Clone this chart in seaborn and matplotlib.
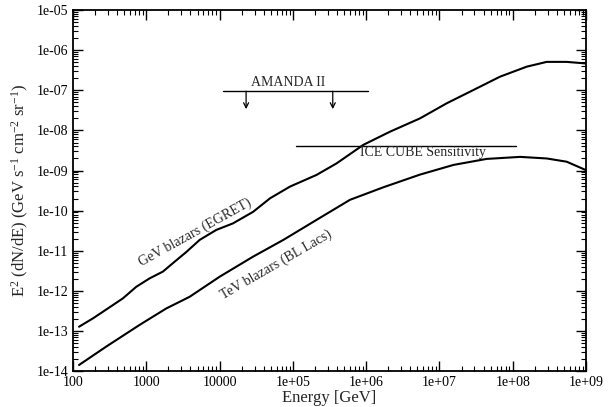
import numpy as np
import pandas as pd
import matplotlib
matplotlib.use("Agg")
import matplotlib.pyplot as plt
from matplotlib.ticker import LogLocator, NullFormatter
import seaborn as sns

# GeV blazars (EGRET) curve
gev_E = [121, 188, 352, 481, 731, 1110, 1690, 2310, 3520, 5350, 9020, 1.52e4, 2.86e4,
         4.88e4, 9.14e4, 2.11e5, 3.95e5, 9.14e5, 2.11e6, 5.42e6, 1.25e7, 2.9e7, 6.68e7,
         1.55e8, 2.9e8, 5.43e8, 1e9]
gev_F = [1.27e-13, 2.06e-13, 4.43e-13, 6.5e-13, 1.26e-12, 2.04e-12, 3.02e-12, 4.9e-12,
         9.3e-12, 1.86e-11, 3.3e-11, 4.8e-11, 9.3e-11, 2.03e-10, 3.98e-10, 7.8e-10,
         1.51e-9, 4.37e-9, 9.3e-9, 2.0e-8, 4.74e-8, 1.02e-7, 2.19e-7, 3.9e-7, 5.13e-7,
         5.13e-7, 4.68e-7]

# TeV blazars (BL Lacs) curve
tev_E = [121, 285, 811, 1875, 3910, 1e4, 2.86e4, 7.41e4, 2.11e5, 6.01e5, 1.7e6, 5.4e6,
         1.55e7, 4.4e7, 1.26e8, 2.9e8, 5.43e8, 1e9]
tev_F = [1.41e-14, 4.07e-14, 1.41e-13, 3.63e-13, 7.1e-13, 2.24e-12, 7.1e-12, 1.86e-11,
         5.9e-11, 1.86e-10, 3.8e-10, 7.9e-10, 1.38e-9, 1.95e-9, 2.19e-9, 2.0e-9, 1.66e-9,
         1.02e-9]

# AMANDA II limit and arrows
amanda_E = [1.1e4, 1.07e6]
amanda_F = 9.5e-8
amanda_arrow_E = [2.3e4, 3.5e5]
amanda_arrow_tip = 3.4e-8

# ICE CUBE sensitivity
icecube_E = [1.1e5, 1.1e8]
icecube_F = 4.2e-9

xticks = [1e2, 1e3, 1e4, 1e5, 1e6, 1e7, 1e8, 1e9]
xticklabels = ["100", "1000", "10000", "1e+05", "1e+06", "1e+07", "1e+08", "1e+09"]
yticks = [1e-14, 1e-13, 1e-12, 1e-11, 1e-10, 1e-9, 1e-8, 1e-7, 1e-6, 1e-5]
yticklabels = ["1e-14", "1e-13", "1e-12", "1e-11", "1e-10", "1e-09", "1e-08", "1e-07",
               "1e-06", "1e-05"]

sns.set_style("ticks")
plt.rcParams["font.family"] = ["Liberation Serif", "DejaVu Serif"]
plt.rcParams["mathtext.fontset"] = "custom"
plt.rcParams["mathtext.rm"] = "Liberation Serif"
plt.rcParams["mathtext.it"] = "Liberation Serif:italic"

fig = plt.figure(figsize=(6.08, 4.07), dpi=100)
ax = fig.add_axes([0.12, 0.0885, 0.844, 0.8865])

gev = pd.DataFrame({"E": gev_E, "F": gev_F})
tev = pd.DataFrame({"E": tev_E, "F": tev_F})
sns.lineplot(data=gev, x="E", y="F", ax=ax, color="black", lw=1.5)
sns.lineplot(data=tev, x="E", y="F", ax=ax, color="black", lw=1.5)

ax.set_xscale("log")
ax.set_yscale("log")
ax.set_xlim(1e2, 1e9)
ax.set_ylim(1e-14, 1e-5)

ax.plot(amanda_E, [amanda_F, amanda_F], color="black", lw=1)
for e in amanda_arrow_E:
    ax.annotate("", xy=(e, amanda_arrow_tip), xytext=(e, amanda_F),
                arrowprops=dict(arrowstyle="->", color="black", lw=0.9,
                                shrinkA=0, shrinkB=0, mutation_scale=9))
ax.text(8.5e4, 1.1e-7, "AMANDA II", ha="center", va="bottom", fontsize=10)

ax.plot(icecube_E, [icecube_F, icecube_F], color="black", lw=1)
ax.text(8.3e5, 4.1e-9, "ICE CUBE Sensitivity", ha="left", va="top", fontsize=10)

ax.text(4.7e3, 2.9e-11, "GeV blazars (EGRET)", rotation=29, ha="center", va="center",
        fontsize=10)
ax.text(6.0e4, 4.4e-12, "TeV blazars (BL Lacs)", rotation=30, ha="center", va="center",
        fontsize=10)

ax.set_xticks(xticks)
ax.set_xticklabels(xticklabels)
ax.set_yticks(yticks)
ax.set_yticklabels(yticklabels)
for axis in (ax.xaxis, ax.yaxis):
    axis.set_minor_locator(LogLocator(base=10, subs=np.arange(2, 10), numticks=100))
    axis.set_minor_formatter(NullFormatter())
ax.tick_params(which="both", direction="in", top=True, right=True, labelsize=10,
               color="black", labelcolor="black")
ax.tick_params(which="major", length=7, width=1)
ax.tick_params(which="minor", length=3.5, width=0.8)
for s in ax.spines.values():
    s.set_linewidth(1.3)
    s.set_color("black")

ax.set_xlabel("Energy [GeV]", fontsize=12, labelpad=1)
ax.set_ylabel(r"E$^{2}$ (dN/dE) (GeV s$^{-1}$ cm$^{-2}$ sr$^{-1}$)", fontsize=12, labelpad=4)

fig.savefig("out.png", dpi=100)
